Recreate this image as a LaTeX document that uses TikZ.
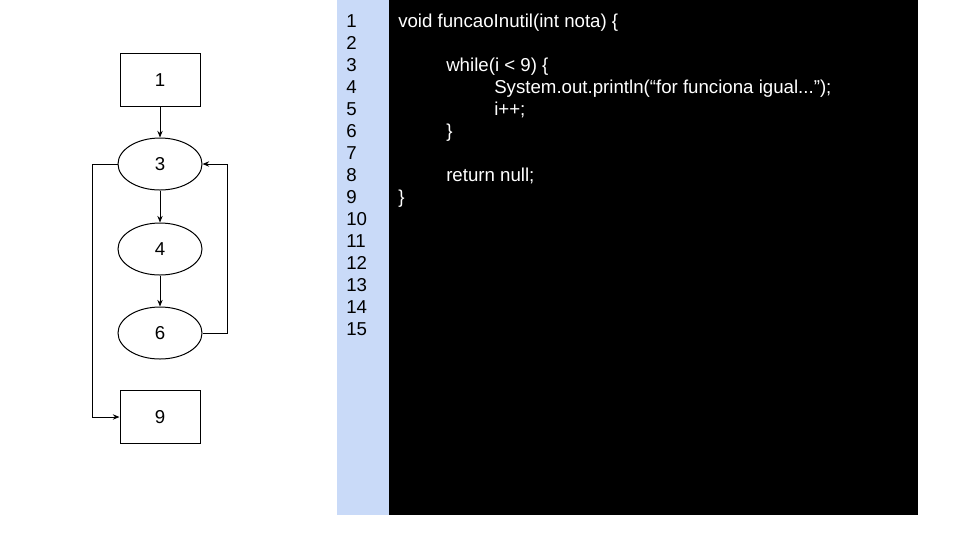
\documentclass[tikz,border=0pt]{standalone}
\usepackage{fontspec}
\setmainfont{Liberation Sans}
\usetikzlibrary{arrows.meta,shapes.geometric}
\definecolor{gutter}{HTML}{C9DAF8}
\tikzset{
  box/.style={draw=black, line width=0.75pt, minimum width=60pt, minimum height=39.75pt, inner sep=0pt, font=\fontsize{14pt}{16pt}\selectfont},
  oval/.style={draw=black, ellipse, line width=0.75pt, minimum width=63pt, minimum height=39pt, inner sep=0pt, font=\fontsize{14pt}{16pt}\selectfont},
  conn/.style={line width=0.75pt, -{Stealth[length=5pt,width=4pt]}},
  code/.style={anchor=base west, inner sep=0pt, text=white, font=\fontsize{14pt}{16pt}\selectfont},
  lnum/.style={anchor=base west, inner sep=0pt, text=black, font=\fontsize{14pt}{16pt}\selectfont}
}
\begin{document}
\begin{tikzpicture}[x=0.75pt,y=-0.75pt]
\useasboundingbox (0,0) rectangle (960,537);
\fill[white] (0,0) rectangle (960,537);
% panels
\fill[gutter] (337,0) rectangle (389,515);
\fill[black] (389,0) rectangle (918,515);
% line numbers
\foreach \n in {1,...,15} {
  \node[lnum] (ln\n) at (346,{27+22*(\n-1)}) {\n};
}
% code
\node[code] (c1) at (398,27) {void funcaoInutil(int nota) \{};
\node[code] (c3) at (446,71) {while(i < 9) \{};
\node[code] (c4) at (494,93) {System.out.println(“for funciona igual...”);};
\node[code] (c5) at (494,115) {i++;};
\node[code] (c6) at (446,137) {\}};
\node[code] (c8) at (446,181) {return null;};
\node[code] (c9) at (398,203) {\}};
% flowchart
\node[box] (n1) at (160,80) {1};
\node[oval] (n3) at (160,164) {3};
\node[oval] (n4) at (160,249) {4};
\node[oval] (n6) at (160,333) {6};
\node[box] (n9) at (160,417) {9};
\coordinate (r6) at (227,333);
\coordinate (r3) at (227,164);
\coordinate (l3) at (92,164);
\coordinate (l9) at (92,417);
\draw[conn] (n1) -- (n3);
\draw[conn] (n3) -- (n4);
\draw[conn] (n4) -- (n6);
\draw[conn] (n6.east) -- (r6) -- (r3) -- (n3.east);
\draw[conn] (n3.west) -- (l3) -- (l9) -- (n9.west);
\end{tikzpicture}
\end{document}
